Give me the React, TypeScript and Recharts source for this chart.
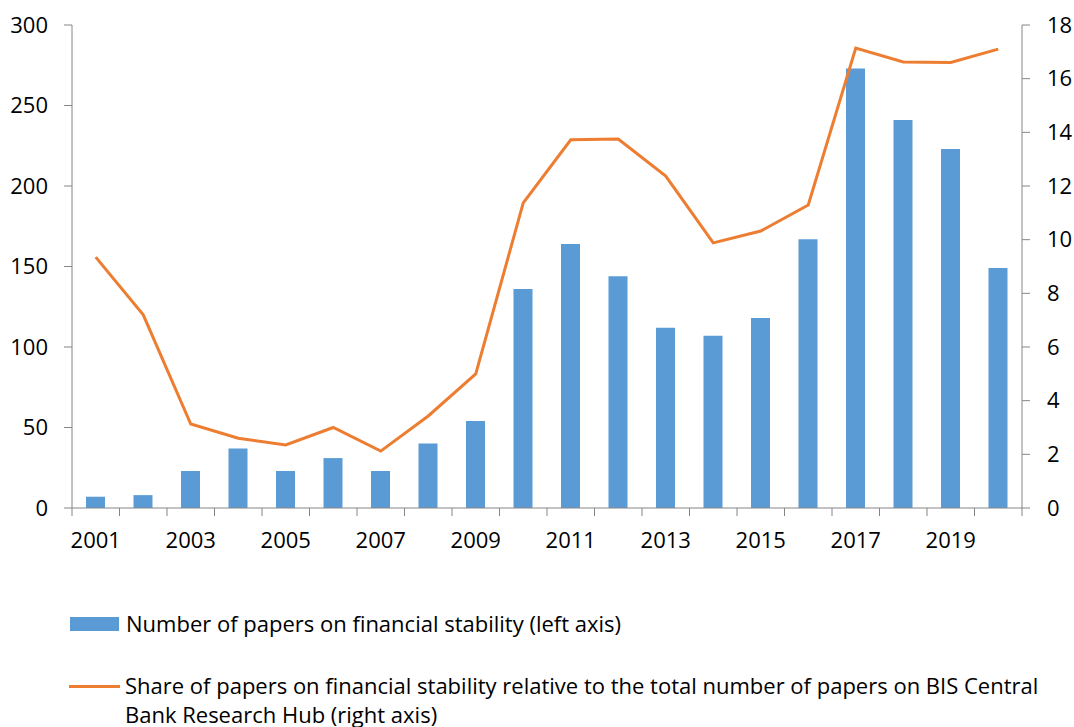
import React from 'react';
import { ComposedChart, Bar, Line, XAxis, YAxis } from 'recharts';

const years = [
  '2001', '2002', '2003', '2004', '2005', '2006', '2007', '2008', '2009', '2010',
  '2011', '2012', '2013', '2014', '2015', '2016', '2017', '2018', '2019', '2020',
];
const paperCounts = [7, 8, 23, 37, 23, 31, 23, 40, 54, 136, 164, 144, 112, 107, 118, 167, 273, 241, 223, 149];
const paperShares = [9.35, 7.2, 3.13, 2.6, 2.35, 3.0, 2.12, 3.43, 5.0, 11.37, 13.72, 13.75, 12.37, 9.88, 10.32, 11.29, 17.14, 16.62, 16.6, 17.1];
const leftTicks = [0, 50, 100, 150, 200, 250, 300];
const rightTicks = [0, 2, 4, 6, 8, 10, 12, 14, 16, 18];

const data = years.map((year, i) => ({ year, count: paperCounts[i], share: paperShares[i] }));

const BAR_COLOR = '#5B9BD5';
const LINE_COLOR = '#ED7D31';
const AXIS_COLOR = '#868686';
const FONT = '"Open Sans", "Noto Sans", sans-serif';
const FONT_SIZE = 22;

// category axis: tick marks sit on the boundaries between years, labels on every other year
const YearTick = (props: any) => {
  const { x, y, payload, index } = props;
  const half = payload && payload.offset ? payload.offset : 23.75;
  const top = y - 8;
  return (
    <g>
      <line x1={x - half} y1={top} x2={x - half} y2={top + 8} stroke={AXIS_COLOR} strokeWidth={1} />
      {index === years.length - 1 && (
        <line x1={x + half} y1={top} x2={x + half} y2={top + 8} stroke={AXIS_COLOR} strokeWidth={1} />
      )}
      {index % 2 === 0 && (
        <text x={x} y={top + 40} textAnchor="middle" fill="#000" fontSize={FONT_SIZE} fontFamily={FONT}>
          {payload.value}
        </text>
      )}
    </g>
  );
};

const App = () => {
  return (
    <div style={{ position: 'absolute', left: 0, top: 0, width: 1074, height: 727, background: '#fff', fontFamily: FONT }}>
      <ComposedChart
        width={1074}
        height={560}
        data={data}
        margin={{ top: 25, right: 6, bottom: 12, left: 12 }}
        barCategoryGap={0}
      >
        <XAxis
          dataKey="year"
          interval={0}
          height={40}
          tickLine={false}
          axisLine={{ stroke: AXIS_COLOR }}
          tick={<YearTick />}
        />
        <YAxis
          yAxisId="left"
          domain={[0, 300]}
          ticks={leftTicks}
          width={60}
          tickSize={8}
          tickLine={{ stroke: AXIS_COLOR }}
          axisLine={{ stroke: AXIS_COLOR }}
          tick={{ fill: '#000', fontSize: FONT_SIZE, fontFamily: FONT }}
          tickMargin={16}
        />
        <YAxis
          yAxisId="right"
          orientation="right"
          domain={[0, 18]}
          ticks={rightTicks}
          width={46}
          tickSize={8}
          tickLine={{ stroke: AXIS_COLOR }}
          axisLine={{ stroke: AXIS_COLOR }}
          tick={{ fill: '#000', fontSize: FONT_SIZE, fontFamily: FONT, textAnchor: 'start' }}
          tickMargin={17}
        />
        <Bar yAxisId="left" dataKey="count" fill={BAR_COLOR} barSize={19} isAnimationActive={false} />
        <Line
          yAxisId="right"
          dataKey="share"
          stroke={LINE_COLOR}
          strokeWidth={3}
          dot={false}
          activeDot={false}
          type="linear"
          isAnimationActive={false}
        />
      </ComposedChart>

      <div style={{ position: 'absolute', left: 70, top: 609, fontSize: FONT_SIZE, color: '#000', lineHeight: '29px' }}>
        <div style={{ display: 'flex', alignItems: 'center' }}>
          <span style={{ display: 'inline-block', width: 49, height: 14, background: BAR_COLOR, marginRight: 7 }} />
          <span>Number of papers on financial stability (left axis)</span>
        </div>
        <div style={{ display: 'flex', alignItems: 'flex-start', marginTop: 33 }}>
          <span style={{ display: 'inline-block', width: 51, height: 3, background: LINE_COLOR, marginRight: 5, marginTop: 14, marginLeft: -1 }} />
          <span style={{ whiteSpace: 'nowrap' }}>
            Share of papers on financial stability relative to the total number of papers on BIS Central
            <br />
            Bank Research Hub (right axis)
          </span>
        </div>
      </div>
    </div>
  );
};

export default App;
